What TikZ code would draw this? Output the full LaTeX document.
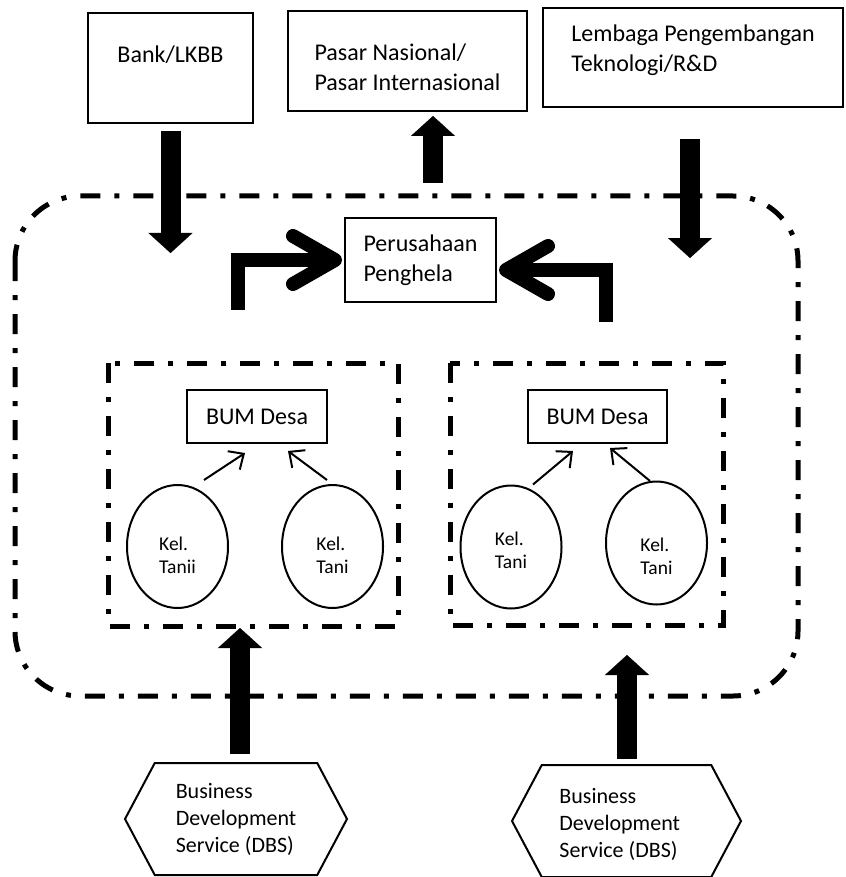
\documentclass[tikz,border=0pt]{standalone}
\usepackage{fontspec}
\setmainfont{Carlito}
\usetikzlibrary{arrows.meta,shapes.geometric,shapes.symbols}

\begin{document}
\begin{tikzpicture}[x=1pt,y=-1pt,
  box/.style={draw,line width=2pt,inner sep=0pt,align=left,font=\fontsize{24}{30}\selectfont},
  tani/.style={draw,ellipse,line width=2pt,minimum width=101pt,minimum height=123pt,inner sep=0pt,align=left,text height=54pt,font=\fontsize{19.5}{23}\selectfont},
  dbs/.style={draw,signal,signal to=west and east,signal pointer angle=124,line width=2pt,minimum height=112pt,inner sep=0pt,align=left,font=\fontsize{22}{27}\selectfont},
  dashdot/.style={line width=5pt,dash pattern=on 20pt off 14pt on 5pt off 14pt},
  fat/.style={line width=20pt,-{Triangle[length=20pt,width=44pt,line width'=0.1pt]}},
  bent/.style={line width=14pt,line join=miter,-{Straight Barb[length=42pt,width=48pt,round]}},
  tanarrow/.style={line width=2pt,-{Straight Barb[length=12pt,width=22pt]}}]
\useasboundingbox (0,0) rectangle (845,877);
%%%OUTSIDE
\node[box,minimum width=165pt,minimum height=110pt,text depth=27pt] (bank) at (170.5,68) {Bank/LKBB};
\node[box,minimum width=239pt,minimum height=100pt,text height=59pt] (pasar) at (407.5,61) {Pasar Nasional/\\Pasar Internasional};
\node[box,minimum width=300pt,minimum height=99pt,text depth=18pt] (lembaga) at (693,57.5) {Lembaga Pengembangan\\Teknologi/R\&D};
\node[dbs,minimum width=222pt] (dbsA) at (236,819) {Business\\Development\\Service (DBS)};
\node[dbs,minimum width=229pt,text height=76pt] (dbsB) at (626.5,821) {Business\\Development\\Service (DBS)\hspace*{16pt}};
%%%CLUSTER
\draw[dashdot,rounded corners=65pt] (15,196) rectangle (798,696);
\node[box,minimum width=151pt,minimum height=84pt] (ph) at (420.5,260) {Perusahaan\\Penghela};
\draw[dashdot] (108,363) rectangle (398,626);
\draw[dashdot] (450,363) rectangle (723,625);
\node[box,minimum width=140pt,minimum height=53pt] (bumA) at (257,416.5) {BUM Desa};
\node[box,minimum width=139pt,minimum height=53pt] (bumB) at (597.5,416.5) {BUM Desa};
\node[tani] (k1) at (177.5,546.5) {Kel.\\Tanii};
\node[tani] (k2) at (332.5,546.5) {Kel.\\Tani};
\node[tani,text height=44pt] (k3) at (511,547) {Kel.\\Tani};
\node[tani,text height=64pt] (k4) at (656.5,543) {Kel.\\Tani};
%%%ARROWS
\coordinate (bankend) at (170.5,253);
\coordinate (pasarstart) at (433,183);
\coordinate (lembagaend) at (690,258);
\coordinate (dbsAend) at (240,628);
\coordinate (dbsBend) at (627,655);
\coordinate (lbend) at (238,310);
\coordinate (rbend) at (606,322);
\draw[fat] ([yshift=-7pt]bank.south) -- (bankend);
\draw[fat] (pasarstart) -- ([shift={(25.5,4)}]pasar.south);
\draw[fat] ([shift={(-3,31)}]lembaga.south) -- (lembagaend);
\draw[fat] ([shift={(4,-8)}]dbsA.north) -- (dbsAend);
\draw[fat] ([shift={(0.5,-5)}]dbsB.north) -- (dbsBend);
\draw[bent] (lbend) |- ([xshift=-2pt]ph.west);
\draw[bent] (rbend) |- ([shift={(2,10)}]ph.east);
\draw[tanarrow] ([shift={(26.5,-4)}]k1.north) -- ([shift={(-12,9)}]bumA.south);
\draw[tanarrow] ([shift={(-5.5,-4)}]k2.north) -- ([shift={(31,7)}]bumA.south);
\draw[tanarrow] ([shift={(22,0)}]k3.north) -- ([shift={(-24.5,7)}]bumB.south);
\draw[tanarrow] ([shift={(-6.5,0.5)}]k4.north) -- ([shift={(12.5,4)}]bumB.south);
\end{tikzpicture}
\end{document}
